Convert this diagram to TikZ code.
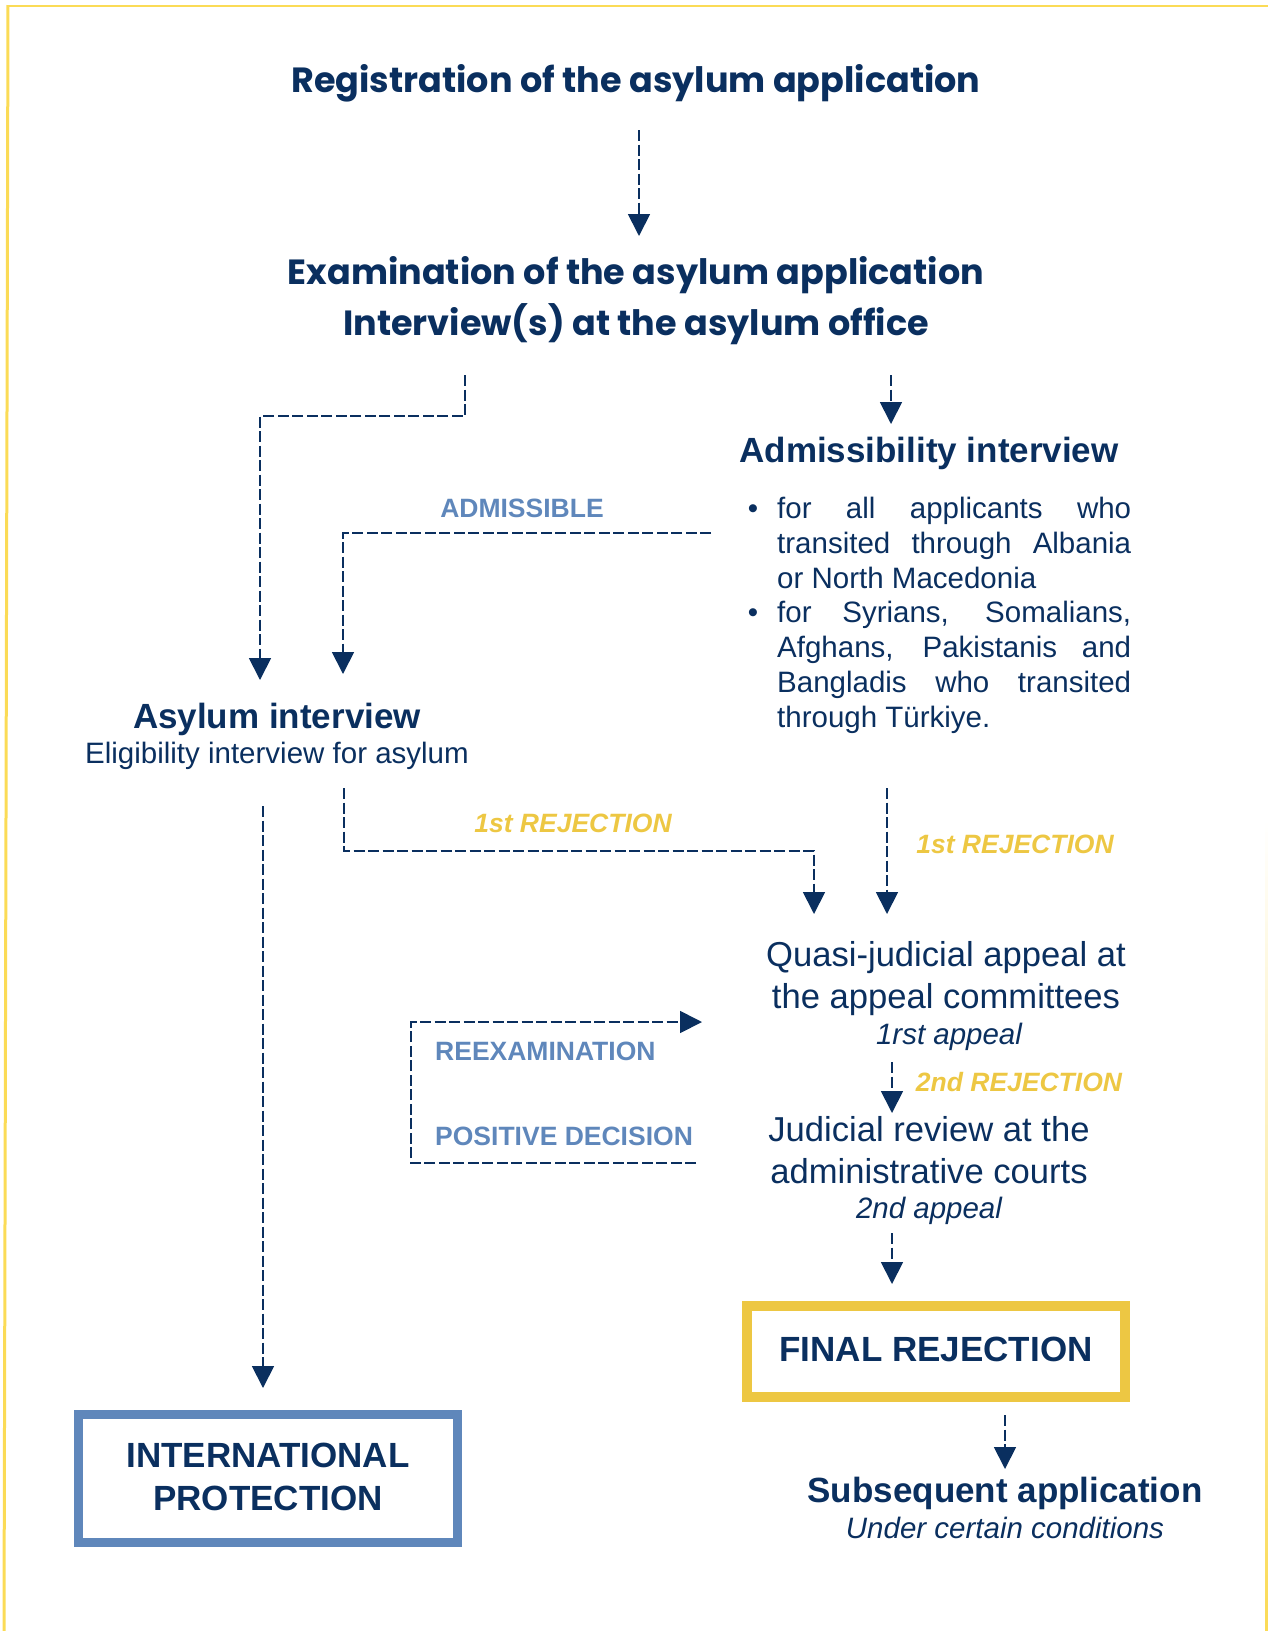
\documentclass[tikz,border=0pt]{standalone}
\usepackage{fontspec}
\setmainfont{Liberation Sans}
\newfontfamily\headfont{Poppins}
\usepackage{tikz}
\usetikzlibrary{arrows.meta}
\definecolor{navy}{HTML}{0A2F5F}
\definecolor{steel}{HTML}{5F87BB}
\definecolor{gold}{HTML}{EDC743}
\definecolor{frame}{HTML}{FBDB56}
\tikzset{>={Triangle[width=22pt,length=22pt]}}
\tikzset{
  flow/.style={->, navy, line width=1.8pt, dash pattern=on 11pt off 3.5pt},
  head/.style={navy, inner sep=0pt, align=center, font=\headfont\bfseries\fontsize{35}{51}\selectfont},
  bigbold/.style={navy, inner sep=0pt, font=\bfseries\fontsize{35}{43}\selectfont},
  big/.style={navy, inner sep=0pt, align=center, font=\fontsize{34.6}{42}\selectfont},
  small/.style={navy, inner sep=0pt, font=\fontsize{29.5}{35}\selectfont},
  smallit/.style={navy, inner sep=0pt, font=\itshape\fontsize{29.5}{35}\selectfont},
  list/.style={navy, inner sep=0pt, anchor=north west, text width=354pt, align=justify, font=\fontsize{29.5}{34.8}\selectfont},
  okay/.style={steel, inner sep=0pt, font=\bfseries\fontsize{26.5}{30}\selectfont},
  nope/.style={gold, inner sep=0pt, font=\bfseries\itshape\fontsize{26.5}{30}\selectfont},
  box/.style={line width=10pt, minimum width=378pt, minimum height=91pt, align=center}
}

\begin{document}
\begin{tikzpicture}[x=1pt, y=-1pt]
  \useasboundingbox (0,0) rectangle (1268,1631);
  % frame
  \draw[frame, line width=2pt] (1268,6) -- (8,6);
  \draw[frame, line width=3pt] (8,5) -- (4,1631);
  \shade[top color=white, bottom color=frame] (1265,820) rectangle (1268,1631);

  % steps
  \node[head] (reg) at (636,83) {Registration of the asylum application};
  \node[head] (exam) at (636,301) {Examination of the asylum application\\Interview(s) at the asylum office};
  \node[bigbold] (adm) at (929,453) {Admissibility interview};
  \node[list] (admlist) at (777,497) {\tolerance=10000 \hbadness=10000
    \leavevmode\llap{\textbullet\hspace{19pt}}for all applicants who\linebreak transited through Albania\linebreak or North Macedonia\par
    \leavevmode\llap{\textbullet\hspace{19pt}}for Syrians, Somalians,\linebreak Afghans, Pakistanis and\linebreak Bangladis who transited\linebreak through Türkiye.};
  \node[bigbold] (asy) at (277,719) {Asylum interview};
  \node[small] (asysub) at (277,756) {Eligibility interview for asylum};
  \node[big] (quasi) at (946,979) {Quasi-judicial appeal at\\the appeal committees};
  \node[smallit] (quasisub) at (949,1037) {1rst appeal};
  \node[big] (jud) at (929,1150) {Judicial review at the\\administrative courts};
  \node[smallit] (judsub) at (929,1211) {2nd appeal};
  \node[bigbold, box, draw=gold] (final) at (936,1351) {\raisebox{4pt}{FINAL REJECTION}};
  \node[bigbold, box, draw=steel, line width=9pt, minimum width=379pt, minimum height=128pt] (intl) at (268,1478) {\raisebox{2pt}{INTERNATIONAL}\\\raisebox{2pt}{PROTECTION}};
  \node[bigbold] (subs) at (1005,1493) {Subsequent application};
  \node[smallit] (subssub) at (1005,1528) {Under certain conditions};

  % decisions
  \node[okay] (admissible) at (522,508) {ADMISSIBLE};
  \node[nope] (rejonea) at (573,823) {1st REJECTION};
  \node[nope] (rejoneb) at (1015,844) {1st REJECTION};
  \node[nope] (rejtwo) at (1019,1082) {2nd REJECTION};
  \node[okay, anchor=west] (reexam) at (435,1051) {REEXAMINATION};
  \node[okay, anchor=west] (posdec) at (435,1136) {POSITIVE DECISION};

  % connector ends
  \coordinate (regout) at (639,130);
  \coordinate (examin) at (639,236);
  \coordinate (examoutl) at (465,375);
  \coordinate (examoutr) at (891,375);
  \coordinate (admin) at (891,424);
  \coordinate (admout) at (711,533);
  \coordinate (asyinl) at (260,680);
  \coordinate (asyinr) at (343,674);
  \coordinate (asyoutl) at (263,806);
  \coordinate (intlin) at (263,1388);
  \coordinate (asyoutr) at (344,788);
  \coordinate (quasiinl) at (814,914);
  \coordinate (admoutb) at (887,788);
  \coordinate (quasiinr) at (887,914);
  \coordinate (quasiout) at (892,1062);
  \coordinate (judin) at (892,1113);
  \coordinate (judout) at (892,1233);
  \coordinate (finalin) at (892,1284);
  \coordinate (finalout) at (1005,1415);
  \coordinate (subsin) at (1005,1469);
  \coordinate (judback) at (696,1163);
  \coordinate (quasiback) at (702,1022);

  % connectors
  \draw[flow] (regout) -- (examin);
  \draw[flow] (examoutl) |- (380,416) -| (asyinl);
  \draw[flow] (examoutr) -- (admin);
  \draw[flow] (admout) -| (asyinr);
  \draw[flow] (asyoutl) -- (intlin);
  \draw[flow] (asyoutr) |- (600,851) -| (quasiinl);
  \draw[flow] (admoutb) -- (quasiinr);
  \draw[flow] (quasiout) -- (judin);
  \draw[flow] (judout) -- (finalin);
  \draw[flow] (finalout) -- (subsin);
  \draw[flow] (judback) -| (411,1090) |- (quasiback);
\end{tikzpicture}
\end{document}
